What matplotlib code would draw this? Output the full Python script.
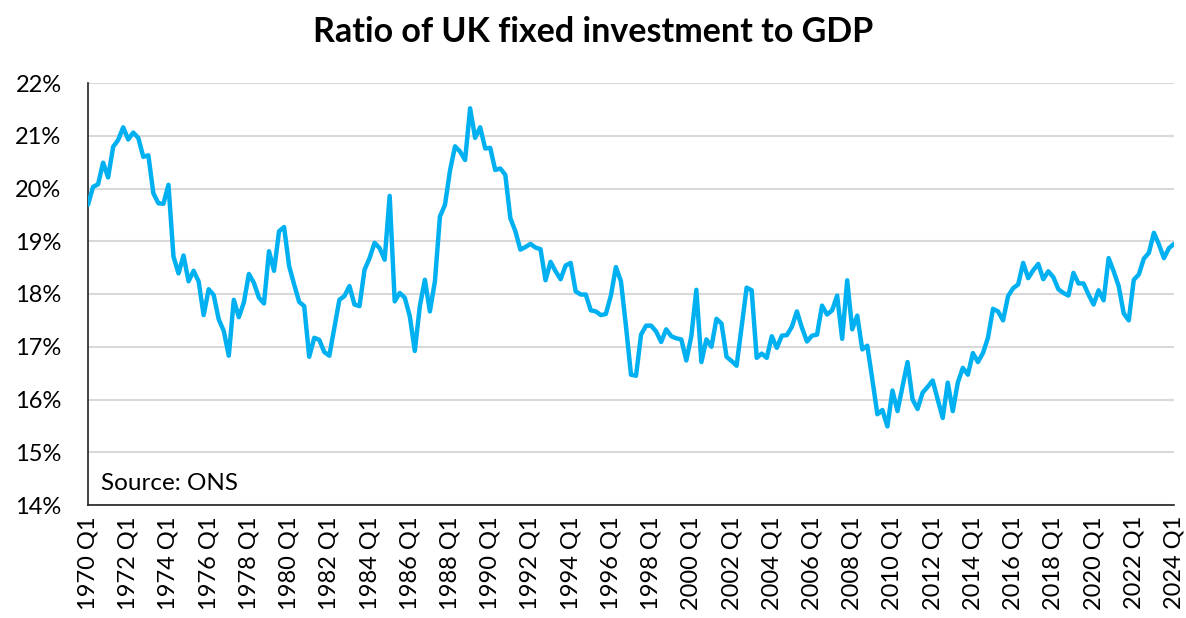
import matplotlib
matplotlib.use("Agg")
import matplotlib.pyplot as plt
import numpy as np

start_year = 1970
ratio_pct = [
    19.69, 20.03, 20.08, 20.49, 20.21, 20.79, 20.92, 21.16, 20.93, 21.06,
    20.96, 20.60, 20.63, 19.91, 19.72, 19.71, 20.07, 18.71, 18.39, 18.73,
    18.24, 18.44, 18.24, 17.60, 18.09, 17.98, 17.52, 17.30, 16.83, 17.89,
    17.56, 17.84, 18.38, 18.21, 17.93, 17.82, 18.81, 18.44, 19.19, 19.27,
    18.53, 18.18, 17.85, 17.77, 16.81, 17.17, 17.13, 16.90, 16.83, 17.36,
    17.89, 17.96, 18.15, 17.80, 17.77, 18.46, 18.68, 18.97, 18.87, 18.65,
    19.86, 17.86, 18.02, 17.93, 17.58, 16.92, 17.77, 18.27, 17.67, 18.24,
    19.47, 19.69, 20.34, 20.80, 20.70, 20.54, 21.52, 20.96, 21.16, 20.76,
    20.77, 20.35, 20.38, 20.26, 19.44, 19.19, 18.84, 18.89, 18.95, 18.88,
    18.85, 18.26, 18.61, 18.43, 18.28, 18.54, 18.59, 18.05, 17.99, 17.99,
    17.69, 17.67, 17.60, 17.62, 17.97, 18.51, 18.24, 17.39, 16.47, 16.45,
    17.23, 17.40, 17.40, 17.29, 17.09, 17.33, 17.20, 17.16, 17.14, 16.74,
    17.20, 18.08, 16.71, 17.14, 17.00, 17.53, 17.44, 16.81, 16.73, 16.64,
    17.38, 18.12, 18.07, 16.79, 16.87, 16.79, 17.20, 16.98, 17.21, 17.22,
    17.38, 17.67, 17.36, 17.10, 17.21, 17.23, 17.78, 17.61, 17.69, 17.97,
    17.15, 18.26, 17.33, 17.59, 16.95, 17.02, 16.38, 15.72, 15.80, 15.49,
    16.17, 15.78, 16.25, 16.71, 16.00, 15.82, 16.13, 16.24, 16.36, 16.00,
    15.65, 16.32, 15.78, 16.32, 16.60, 16.47, 16.88, 16.71, 16.88, 17.17,
    17.72, 17.67, 17.50, 17.96, 18.11, 18.18, 18.59, 18.30, 18.45, 18.57,
    18.28, 18.43, 18.32, 18.09, 18.02, 17.97, 18.40, 18.20, 18.20, 17.99,
    17.80, 18.07, 17.88, 18.68, 18.43, 18.15, 17.63, 17.50, 18.27, 18.37,
    18.67, 18.78, 19.16, 18.94, 18.68, 18.87, 18.95,
]
quarters = [f"{start_year + i // 4} Q{i % 4 + 1}" for i in range(len(ratio_pct))]
y_ticks = [14, 15, 16, 17, 18, 19, 20, 21, 22]
y_tick_labels = [f"{v}%" for v in y_ticks]

plt.rcParams['font.family'] = ['Lato', 'DejaVu Sans']

fig = plt.figure(figsize=(11.86, 6.18), dpi=100)
ax = fig.add_axes([88 / 1186, 1 - 505 / 618, (1174 - 88) / 1186, (505 - 83) / 618])

x = np.arange(len(ratio_pct))
ax.plot(x, ratio_pct, color="#00B0F0", lw=3.2, solid_joinstyle="round", solid_capstyle="round", zorder=3)

ax.set_xlim(0, len(ratio_pct) - 1)
ax.set_ylim(14, 22)
ax.set_yticks(y_ticks)
ax.set_yticklabels(y_tick_labels)
tick_pos = list(range(0, len(ratio_pct), 8))
ax.set_xticks(tick_pos)
ax.set_xticklabels([quarters[i] for i in tick_pos], rotation=90)

ax.grid(axis="y", color="#D9D9D9", lw=1.5, zorder=0)
ax.set_axisbelow(True)
for s in ["top", "right"]:
    ax.spines[s].set_visible(False)
for s in ["left", "bottom"]:
    ax.spines[s].set_color("#222222")
    ax.spines[s].set_linewidth(1.2)

ax.tick_params(axis="y", length=0, pad=19, labelsize=17, colors="black")
ax.tick_params(axis="x", length=0, pad=8, labelsize=17, colors="black")

ax.text(0.012, 0.025, "Source: ONS", transform=ax.transAxes, fontsize=17.5, ha="left", va="bottom")

fig.text(0.5, 1 - 32 / 618, "Ratio of UK fixed investment to GDP", ha="center", va="center",
         fontsize=24.5, fontweight="bold")

fig.savefig("out.png", dpi=100)
